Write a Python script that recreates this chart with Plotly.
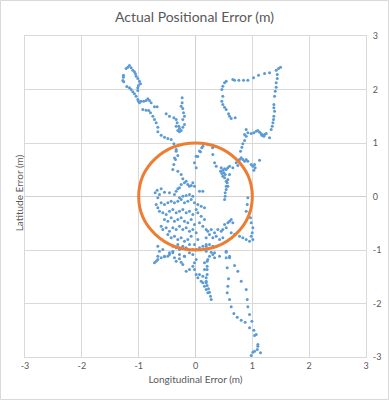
import plotly.graph_objects as go

# ---- data (metres) ----
lon_err = [
    # upper-left loop and trail
    -1.162, -1.191, -1.221, -1.133, -1.103, -1.074, -1.056, -1.268, -1.268, -1.279, -1.262,
    -1.045, -1.015, -0.986, -0.968, -1.004, -1.015, -1.015, -1.209, -1.162, -1.133, -1.103,
    -1.074, -1.045, -1.015, -1.004, -0.986, -0.957, -0.910, -0.869, -0.839, -0.810, -0.781,
    -0.722, -0.675, -0.927, -0.869, -0.822, -0.792, -0.751, -0.722, -0.692, -0.663, -0.663,
    -0.604, -0.546, -0.487, -0.428, -0.381, -0.516, -0.458, -0.381, -0.340, -0.323, -0.340,
    -0.311, -0.282, -0.252, -0.223, -0.194, -0.223, -0.194, -0.211, -0.223, -0.252, -0.235,
    -0.235, -0.293, -0.282, 0.111, 0.088,
    # upper-right loop
    1.496, 1.461, 1.420, 1.438, 1.438, 1.420, 1.420, 1.403, 1.391, 1.379, 1.379, 1.391,
    1.379, 1.373, 1.362, 1.350, 1.332, 1.303, 1.303, 1.215, 1.109, 1.021, 0.921, 0.845,
    0.763, 0.687, 0.657, 0.540, 0.511, 0.481, 0.464, 0.481, 0.464, 0.481, 0.511, 0.540,
    0.581, 0.599, 0.628, 0.698, 0.921, 0.980, 1.027, 1.068, 1.097, 1.127, 1.156, 1.186,
    1.215, 1.244, 1.203, 1.168, 0.892, 0.863, 0.892, 0.863, 0.833, 0.816, 0.792,
    # central cluster
    -0.340, -0.311, -0.352, -0.381, -0.399, -0.311, -0.252, -0.223, -0.194, -0.164, -0.135,
    -0.106, -0.076, -0.047, -0.018, 0.012, -0.018, 0.012, -0.252, -0.282, -0.311, -0.340,
    -0.604, -0.675, -0.710, -0.634, -0.663, -0.546, -0.458, -0.370, -0.282, -0.223, -0.164,
    -0.106, -0.047, 0.070, 0.129, -0.692, -0.663, -0.604, -0.546, -0.487, -0.428, -0.370,
    -0.311, -0.252, -0.194, -0.135, -0.076, -0.018, 0.041, 0.100, 0.158, -0.634, -0.575,
    -0.516, -0.458, -0.399, -0.340, -0.282, -0.223, -0.164, -0.106, -0.047, 0.012, 0.041,
    0.100, 0.158, -0.546, -0.487, -0.428, -0.370, -0.311, -0.252, -0.194, -0.135, -0.076,
    -0.018, 0.070, 0.129, 0.188, -0.604, -0.575, -0.516, -0.458, -0.399, -0.340, -0.282,
    -0.223, -0.164, -0.106, -0.047, 0.012, -0.487, -0.428, -0.370, -0.311, -0.252, -0.194,
    -0.135, -0.076, -0.018, 0.041, -0.663, -0.634, -0.663, -0.575, -0.546, -0.458, -0.399,
    -0.340, -0.311, -0.282, -0.223, -0.164, -0.106, -0.047, 0.012, 0.070, 0.129, 0.188,
    -0.399, -0.282, -0.194, -0.106,
    0.04, 0.07, 0.13, 0.22, 0.30, 0.33, -0.34, -0.37,
    # right part of the ring area
    0.775, 0.804, 0.833, 0.863, 0.892, 0.921, 0.980, 1.009, 1.039, 1.050, 1.027, 1.127,
    0.716, 0.745, 0.657, 0.599, 0.569, 0.540, 0.511, 0.481, 0.452, 0.440, 0.464, 0.499,
    0.522, 0.481, 0.511, 0.540, 0.558, 0.540, 0.540, 0.522, 0.522, 0.511, 0.599, 0.569,
    0.569, 0.305, 0.335, 0.364, 0.921, 0.910, 0.892, 0.951, 0.968, 0.980, 1.009, 0.998,
    0.980, 1.009, 0.951, 0.892, 0.833, 0.775, 0.687, 0.628, 0.599, 0.628, 0.657, 0.569,
    0.511, 0.481, 0.540, 0.452, 0.393, 0.335, 0.276, 0.246, 0.217, 0.188, 0.305, 0.364,
    0.423, 0.481, 0.246, 0.305, 0.188, 0.335, 0.423, 0.540, 0.599,
    # lower-left tail
    -0.722, -0.692, -0.663, -0.604, -0.546, -0.487, -0.458, -0.399, -0.370, -0.340, -0.282,
    -0.252, -0.223, -0.194, -0.164, -0.106, -0.047, -0.018, 0.012, -0.047, -0.018, 0.012,
    0.041, 0.070, 0.100, 0.129, 0.158, 0.188, 0.217, 0.129, 0.158, 0.158,
    # lower-right tails
    0.188, 0.205, 0.205, 0.205, 0.188, 0.188, 0.188, 0.205, 0.229, 0.246, 0.264, 0.276,
    0.540, 0.540, 0.599, 0.687, 0.745, 0.558, 0.581, 0.569, 0.558, 0.599, 0.804, 0.892,
    0.910, 0.628, 0.675, 0.734, 0.804, 0.874, 0.951, 0.921, 0.951, 0.992, 1.027, 1.039,
    1.068, 1.097, 1.097, 1.086, 1.039, 1.009, 0.980, 1.144, 0.335, 0.305, 0.246, 0.217,
    0.205, 0.276,
]
lat_err = [
    # upper-left loop and trail
    2.449, 2.417, 2.393, 2.405, 2.361, 2.330, 2.293, 2.268, 2.231, 2.168, 2.143,
    2.249, 2.206, 2.156, 2.106, 2.075, 2.031, 1.981, 2.056, 2.031, 2.000, 1.956,
    1.919, 1.875, 1.813, 1.782, 1.751, 1.782, 1.782, 1.794, 1.826, 1.794, 1.751,
    1.676, 1.676, 1.626, 1.614, 1.607, 1.564, 1.502, 1.439, 1.377, 1.296, 1.209,
    1.146, 1.109, 1.084, 1.065, 0.984, 1.545, 1.502, 1.470, 1.439, 1.377, 1.315,
    1.234, 1.209, 1.234, 1.296, 1.346, 1.439, 1.502, 1.564, 1.645, 1.688, 1.751,
    1.844, 1.315, 1.271, 0.910, 0.835,
    # upper-right loop
    2.417, 2.393, 2.361, 2.280, 2.206, 2.125, 2.044, 1.969, 1.875, 1.720, 1.657, 1.595,
    1.502, 1.439, 1.377, 1.315, 1.252, 1.097, 2.312, 2.299, 2.268, 2.218, 2.174, 2.174,
    2.174, 2.174, 2.187, 2.156, 2.125, 2.062, 2.000, 1.875, 1.782, 1.720, 1.670, 1.626,
    1.545, 1.502, 1.458, 1.470, 1.190, 1.178, 1.190, 1.221, 1.234, 1.202, 1.171, 1.146,
    1.159, 1.178, 1.128, 1.146, 1.252, 1.159, 1.128, 1.047, 0.984, 0.922, 0.847,
    # central cluster
    0.847, 0.766, 0.692, 0.598, 0.505, 0.474, 0.411, 0.330, 0.255, 0.287, 0.224,
    0.193, 0.206, 0.255, 0.193, 0.536, 0.629, 0.754, 0.224, 0.162, 0.143, 0.100,
    0.143, 0.118, 0.069, 0.037, -0.025, 0.081, 0.069, 0.037, -0.025, 0.006, 0.019,
    0.037, 0.006, 0.100, 0.100, -0.150, -0.212, -0.118, -0.150, -0.118, -0.087, -0.118,
    -0.087, -0.056, -0.118, -0.087, -0.056, -0.118, -0.150, -0.181, -0.212, -0.274, -0.305,
    -0.336, -0.274, -0.243, -0.305, -0.274, -0.243, -0.305, -0.274, -0.336, -0.243, -0.305,
    -0.368, -0.430, -0.430, -0.461, -0.399, -0.461, -0.430, -0.399, -0.461, -0.492, -0.430,
    -0.523, -0.492, -0.555, -0.617, -0.555, -0.617, -0.586, -0.648, -0.586, -0.617, -0.555,
    -0.617, -0.586, -0.648, -0.617, -0.679, -0.710, -0.773, -0.741, -0.804, -0.773, -0.835,
    -0.804, -0.741, -0.897, -0.804, -0.928, -1.022, -1.115, -0.991, -1.115, -1.053, -0.928,
    -0.960, -0.897, -0.991, -0.928, -0.960, -0.897, -0.991, -0.991, -0.960, -0.928, -0.897,
    -1.022, -1.084, -1.115, -1.053,
    0.75, 0.85, 0.94, 0.97, 0.91, 0.94, 0.88, 0.72,
    # right part of the ring area
    0.692, 0.723, 0.692, 0.660, 0.692, 0.660, 0.598, 0.567, 0.598, 0.536, 0.492, 0.679,
    0.629, 0.579, 0.536, 0.567, 0.536, 0.505, 0.517, 0.492, 0.536, 0.474, 0.430, 0.442,
    0.411, 0.380, 0.349, 0.287, 0.255, 0.193, 0.131, 0.069, 0.006, -0.056, 0.411, 0.318,
    0.193, 0.785, 0.629, 0.567, -0.025, -0.150, -0.274, -0.305, -0.399, -0.492, -0.586, -0.679,
    -0.741, -0.804, -0.835, -0.804, -0.773, -0.741, -0.710, -0.679, -0.461, -0.430, -0.492, -0.492,
    -0.523, -0.617, -0.586, -0.648, -0.617, -0.679, -0.617, -0.710, -0.648, -0.773, -0.773, -0.741,
    -0.804, -0.773, -0.897, -0.928, -0.928, -1.053, -1.115, -1.022, -1.115,
    # lower-left tail
    -1.240, -1.209, -1.178, -1.146, -1.128, -1.115, -1.084, -1.053, -1.146, -1.209, -1.165,
    -1.227, -1.271, -1.115, -1.396, -1.364, -1.302, -1.240, -1.178, -1.084, -1.364, -1.458,
    -1.520, -1.458, -1.583, -1.614, -1.676, -1.738, -1.800, -1.489, -1.364, -1.240,
    # lower-right tails
    -1.022, -1.302, -1.364, -1.458, -1.520, -1.583, -1.614, -1.664, -1.726, -1.788, -1.863, -1.925,
    -1.040, -1.146, -1.146, -1.290, -1.396, -1.333, -1.539, -1.676, -1.800, -1.925, -1.583, -1.738,
    -1.925, -2.062, -2.187, -2.255, -2.312, -2.349, -2.455, -2.062, -2.206, -2.330, -2.498, -2.598,
    -2.579, -2.766, -2.798, -2.860, -2.891, -2.910, -2.972, -2.922, -1.146, -1.084, -1.115, -1.178,
    -1.209, -1.040,
]

circle_radius = 1.0
axis_range = [-3, 3]
tick_vals = [-3, -2, -1, 0, 1, 2, 3]
tick_text = ["-3", "-2", "-1", "0", "1", "2", "3"]

chart_title = "Actual Positional Error (m)"
x_title = "Longitudinal Error (m)"
y_title = "Latitude Error (m)"

# ---- layout constants ----
W, H = 389, 400
ML, MR, MT, MB = 25, 23, 36, 43
PW, PH = W - ML - MR, H - MT - MB
FONT = "Lato, 'Open Sans', sans-serif"
TXT = "#595959"
GRID = "#d9d9d9"

fig = go.Figure()
fig.add_trace(go.Scatter(
    x=lon_err, y=lat_err, mode="markers",
    marker=dict(size=3, color="#5b9bd5", line=dict(width=0)),
    showlegend=False, hoverinfo="x+y",
))

fig.add_shape(type="circle", xref="x", yref="y",
              x0=-circle_radius, x1=circle_radius,
              y0=-circle_radius, y1=circle_radius,
              line=dict(color="#ed7d31", width=3), layer="above")

# chart-area border
fig.add_shape(type="rect", xref="paper", yref="paper",
              x0=(-ML + 0.5) / PW, x1=1 + (MR - 0.5) / PW,
              y0=-(MB - 0.5) / PH, y1=1 + (MT - 0.5) / PH,
              line=dict(color=GRID, width=1), fillcolor="rgba(0,0,0,0)")

fig.add_annotation(text=y_title, xref="paper", yref="paper",
                   x=-6 / PW, y=0.51, textangle=-90, showarrow=False,
                   xanchor="center", yanchor="middle",
                   font=dict(family=FONT, size=10, color=TXT))

fig.update_layout(
    width=W, height=H,
    margin=dict(l=ML, r=MR, t=MT, b=MB, pad=0),
    paper_bgcolor="white", plot_bgcolor="white",
    font=dict(family=FONT, size=9, color=TXT),
    title=dict(text=chart_title, x=0.5, xanchor="center",
               y=1 - 17 / H, yanchor="middle",
               font=dict(family=FONT, size=14, color=TXT)),
    xaxis=dict(range=axis_range, tickvals=tick_vals, ticktext=tick_text,
               showgrid=True, gridcolor=GRID, gridwidth=1, zeroline=True,
               zerolinecolor="#d0d0d0", zerolinewidth=1,
               showline=True, mirror=True, linecolor=GRID, linewidth=1,
               ticks="", fixedrange=True, automargin=False,
               title=dict(text=x_title, standoff=6,
                          font=dict(family=FONT, size=10, color=TXT)),
               tickfont=dict(family=FONT, size=9, color=TXT)),
    yaxis=dict(range=axis_range, tickvals=tick_vals, ticktext=tick_text,
               side="right", automargin=False,
               showgrid=True, gridcolor=GRID, gridwidth=1,
               zeroline=True, zerolinecolor="#d0d0d0", zerolinewidth=1,
               showline=True, mirror=True, linecolor=GRID, linewidth=1,
               ticks="outside", ticklen=4, tickcolor="rgba(0,0,0,0)",
               fixedrange=True,
               tickfont=dict(family=FONT, size=9, color=TXT)),
)

fig.write_html(
    "out.html",
    config={"displayModeBar": False},
    post_script="document.body.style.margin='0';document.body.style.overflow='hidden';",
)
